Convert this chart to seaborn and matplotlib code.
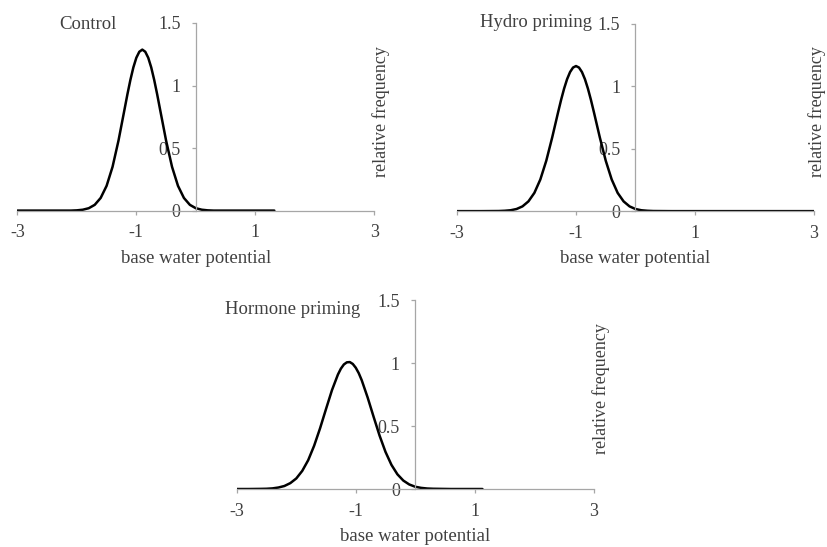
import seaborn as sns
from matplotlib import pyplot as plt
import pandas as pd

sns.set_theme(style="white")
plt.rcParams["font.family"] = ["Liberation Serif", "DejaVu Serif"]

# values
titles = ["Control", "Hydro priming", "Hormone priming"]
xticks = [-3, -1, 1, 3]
xtick_labels = ["-3", "-1", "1", "3"]
yticks = [0, 0.5, 1, 1.5]
ytick_labels = ["0", "0.5", "1", "1.5"]

ctrl_x = [-3.0, -2.5, -2.1, -2.0, -1.9, -1.8, -1.7, -1.6, -1.5, -1.4, -1.3, -1.2,
          -1.15, -1.1, -1.05, -1.0, -0.95, -0.9, -0.85, -0.8, -0.75, -0.7, -0.65,
          -0.6, -0.5, -0.4, -0.3, -0.2, -0.1, 0.0, 0.1, 0.2, 0.3, 0.6, 1.32]
ctrl_y = [0.0, 0.0, 0.0, 0.002, 0.007, 0.019, 0.046, 0.101, 0.198, 0.350, 0.560, 0.806,
          0.930, 1.045, 1.145, 1.222, 1.270, 1.287, 1.270, 1.222, 1.145, 1.045, 0.930,
          0.806, 0.560, 0.350, 0.198, 0.101, 0.046, 0.019, 0.007, 0.002, 0.0, 0.0, 0.0]

hydro_x = [-3.0, -2.6, -2.3, -2.2, -2.1, -2.0, -1.9, -1.8, -1.7, -1.6, -1.5, -1.4,
           -1.3, -1.25, -1.2, -1.15, -1.1, -1.05, -1.0, -0.95, -0.9, -0.85, -0.8,
           -0.75, -0.7, -0.6, -0.5, -0.4, -0.3, -0.2, -0.1, 0.0, 0.1, 0.2, 0.3,
           0.6, 3.0]
hydro_y = [0.0, 0.0, 0.001, 0.003, 0.007, 0.017, 0.038, 0.078, 0.146, 0.253, 0.403, 0.590,
           0.793, 0.891, 0.980, 1.055, 1.112, 1.148, 1.160, 1.148, 1.112, 1.055, 0.980,
           0.891, 0.793, 0.590, 0.403, 0.253, 0.146, 0.078, 0.038, 0.017, 0.007, 0.003,
           0.001, 0.0, 0.0]

horm_x = [-3.0, -2.8, -2.6, -2.5, -2.4, -2.3, -2.2, -2.1, -2.0, -1.9, -1.8, -1.7,
          -1.6, -1.5, -1.4, -1.3, -1.25, -1.2, -1.15, -1.1, -1.05, -1.0, -0.95, -0.9,
          -0.8, -0.7, -0.6, -0.5, -0.4, -0.3, -0.2, -0.1, 0.0, 0.1, 0.2, 0.3, 0.6, 1.13]
horm_y = [0.0, 0.0, 0.001, 0.002, 0.005, 0.012, 0.024, 0.047, 0.084, 0.144, 0.229, 0.344,
          0.483, 0.636, 0.786, 0.910, 0.957, 0.990, 1.007, 1.009, 0.994, 0.964, 0.921, 0.865,
          0.727, 0.574, 0.425, 0.295, 0.192, 0.117, 0.067, 0.036, 0.018, 0.009, 0.004,
          0.002, 0.0, 0.0]

series = [(ctrl_x, ctrl_y), (hydro_x, hydro_y), (horm_x, horm_y)]

# axes boxes [left, bottom, width, height] in figure fraction
boxes = [[0.021, 0.615, 0.431, 0.343],
         [0.552, 0.614, 0.431, 0.343],
         [0.286, 0.106, 0.431, 0.345]]
title_pos = [(0.117, 0.991), (0.065, 1.005), (-0.034, 0.952)]
ylab_x = [1.02, 1.008, 1.02]

txt = "#404040"
grey = "#a6a6a6"

fig = plt.figure(figsize=(8.28, 5.47), dpi=100)

for i in range(3):
    ax = fig.add_axes(boxes[i])
    df = pd.DataFrame({"x": series[i][0], "y": series[i][1]})
    sns.lineplot(x="x", y="y", data=df, ax=ax, color="black", linewidth=1.8)

    ax.set(xlim=(-3, 3), ylim=(0, 1.5))
    ax.set_xticks(xticks)
    ax.set_xticklabels(xtick_labels)
    ax.set_yticks(yticks)
    ax.set_yticklabels(ytick_labels)

    ax.spines["left"].set_position(("data", 0))
    ax.spines["top"].set_visible(False)
    ax.spines["right"].set_visible(False)
    for s in ["left", "bottom"]:
        ax.spines[s].set_color(grey)
        ax.spines[s].set_linewidth(0.9)

    ax.tick_params(axis="both", direction="out", length=3, width=0.9,
                   color=grey, labelcolor=txt, labelsize=13)
    ax.tick_params(axis="y", pad=8, left=True)
    ax.tick_params(axis="x", pad=7, bottom=True)

    ax.set_xlabel("base water potential", fontsize=13.5, color=txt, labelpad=6)
    ax.set_ylabel("relative frequency", fontsize=13, color=txt)
    ax.yaxis.set_label_position("right")
    ax.yaxis.set_label_coords(ylab_x[i], 0.53)
    ax.yaxis.label.set_va("center")

    ax.text(title_pos[i][0], title_pos[i][1], titles[i], transform=ax.transAxes,
            fontsize=13.5, color=txt, ha="left", va="center")

plt.savefig("out.png", dpi=100)
